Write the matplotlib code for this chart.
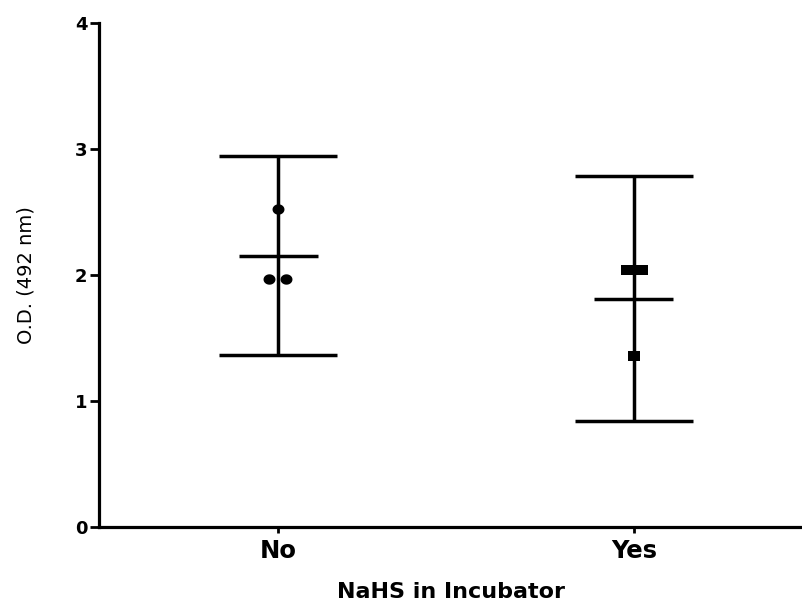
import numpy as np
import matplotlib
matplotlib.use("Agg")
import matplotlib.pyplot as plt

# Individual O.D. readings per group
categories = ["No", "Yes"]
no_values = [2.52, 1.97, 1.97]
yes_values = [2.04, 2.04, 1.36]
no_offsets = [0.0, -0.026, 0.023]
yes_offsets = [-0.020, 0.022, 0.0]

T_975_DF2 = 4.3027  # two-sided 95% t quantile, n = 3

plt.rcParams["font.family"] = ["DejaVu Sans"]

# slightly wide markers
theta = np.linspace(0, 2 * np.pi, 41)
ellipse = np.column_stack([1.15 * np.cos(theta), np.sin(theta)])
rect = [(-1.3, -1), (1.3, -1), (1.3, 1), (-1.3, 1), (-1.3, -1)]

fig = plt.figure(figsize=(8.03, 6.01), dpi=100)
ax = fig.add_axes([99 / 803, 1 - 527 / 601, 1 - 99 / 803, (527 - 23) / 601])

groups = [(no_values, no_offsets, ellipse, 8.6), (yes_values, yes_offsets, rect, 9.0)]
for i, (vals, offs, mk, ms) in enumerate(groups):
    v = np.array(vals)
    mean = v.mean()
    half = T_975_DF2 * v.std(ddof=1) / np.sqrt(len(v))
    lw = 2.5
    ax.plot([i, i], [mean - half, mean + half], color="black", lw=lw, solid_capstyle="butt", zorder=2)
    ax.plot([i - 0.166, i + 0.166], [mean + half] * 2, color="black", lw=lw, solid_capstyle="butt")
    ax.plot([i - 0.166, i + 0.166], [mean - half] * 2, color="black", lw=lw, solid_capstyle="butt")
    ax.plot([i - 0.111, i + 0.111], [mean] * 2, color="black", lw=lw, solid_capstyle="butt")
    ax.plot(i + np.array(offs), v, linestyle="none", marker=mk,
            markersize=ms, markeredgewidth=0, color="black", zorder=3)

ax.set_xlim(-0.503, 1.475)
ax.set_ylim(0, 4)
ax.set_yticks([0, 1, 2, 3, 4])
ax.set_xticks([0, 1])
ax.set_xticklabels(categories)

for s in ["top", "right"]:
    ax.spines[s].set_visible(False)
for s in ["left", "bottom"]:
    ax.spines[s].set_linewidth(2.3)
    ax.spines[s].set_capstyle("projecting")

ax.tick_params(axis="y", length=6.5, width=2.0, pad=2, labelsize=13)
ax.tick_params(axis="x", length=4, width=2.0, pad=5, labelsize=17.5)
for lab in ax.get_yticklabels() + ax.get_xticklabels():
    lab.set_fontweight("bold")

ax.set_xlabel("NaHS in Incubator", fontsize=16, fontweight="bold", labelpad=13)
ax.set_ylabel("O.D. (492 nm)", fontsize=14, labelpad=28)

fig.savefig("out.png", dpi=100)
